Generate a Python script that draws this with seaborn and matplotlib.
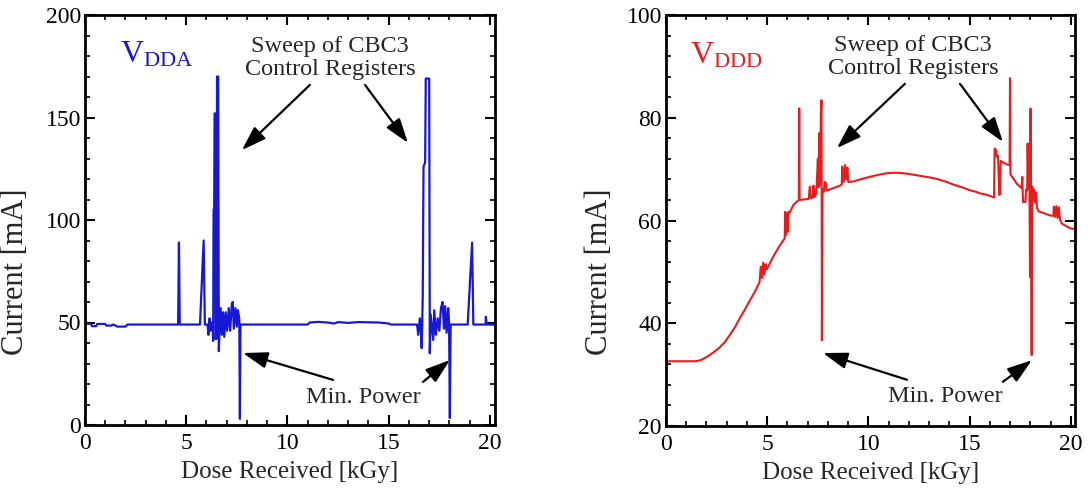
import numpy as np
import pandas as pd
import matplotlib
matplotlib.use("Agg")
import matplotlib.pyplot as plt
from matplotlib.ticker import MultipleLocator
import seaborn as sns

# ---------------- data ----------------
dda_dose = [0.0, 0.30, 0.35, 0.55, 0.60, 1.00, 1.05, 1.30, 1.40, 1.60, 2.00, 2.10,
            4.60, 4.64, 4.68, 5.68, 5.86, 5.92, 6.05, 6.10, 6.15, 6.20, 6.25,
            6.30, 6.33, 6.35, 6.38, 6.40, 6.43, 6.45, 6.50, 6.52, 6.58, 6.61, 6.64,
            6.70, 6.76, 6.82, 6.88, 6.95, 7.02, 7.10, 7.17, 7.25, 7.30, 7.35, 7.43,
            7.50, 7.55, 7.62, 7.65, 7.68,
            11.00, 11.10, 11.50, 12.00, 12.30, 12.50, 13.00, 13.50, 14.50, 15.00,
            15.10, 16.40, 16.46, 16.54, 16.58, 16.63, 16.68, 16.72, 16.80, 16.83,
            17.00, 17.03, 17.07, 17.20, 17.25, 17.33, 17.42, 17.50, 17.58, 17.66,
            17.73, 17.79, 17.86, 17.94, 17.98, 18.02, 18.06,
            18.90, 19.12, 19.18, 19.78, 19.80, 19.84, 20.25]
dda_current = [49.5, 49.3, 48.2, 48.2, 49.3, 49.3, 48.5, 48.5, 49.0, 48.0, 48.0, 49.0,
               49.0, 89.0, 49.0, 49.0, 90.0, 49.0, 49.0, 44.0, 52.0, 46.0, 50.0,
               49.0, 41.0, 105.0, 105.0, 152.0, 152.0, 42.0, 42.0, 170.0, 170.0, 36.0, 45.0,
               57.0, 44.0, 55.0, 43.0, 55.0, 46.0, 57.0, 46.0, 59.0, 60.0, 47.0, 57.0,
               48.0, 56.0, 52.0, 3.0, 49.0,
               49.0, 50.0, 50.3, 50.0, 49.5, 50.2, 49.8, 50.2, 50.0, 49.5,
               49.0, 49.0, 44.0, 52.0, 49.0, 37.5, 62.0, 126.0, 128.0, 169.0,
               169.0, 35.0, 54.0, 41.5, 56.0, 44.0, 52.0, 46.0, 57.0, 60.0,
               47.0, 58.0, 45.0, 57.0, 50.0, 3.4, 49.0,
               49.0, 89.0, 49.0, 49.0, 52.8, 49.0, 49.0]

ddd_dose = [0.0, 1.45, 1.70, 2.00, 2.30, 2.60, 2.90, 3.15, 3.40, 3.65, 3.90, 4.15,
            4.40, 4.62, 4.68, 4.74, 4.80, 4.86,
            4.92, 4.98, 5.30, 5.60, 5.86, 5.89, 5.93, 5.97, 6.01, 6.05, 6.10, 6.29,
            6.50, 6.56, 6.58, 6.60, 7.05, 7.10, 7.16, 7.25, 7.28, 7.33, 7.40, 7.45,
            7.50, 7.53, 7.57, 7.61, 7.65, 7.68, 7.70, 7.73, 7.80, 7.83, 7.90, 7.93,
            8.20, 8.60, 8.68, 8.70, 8.78, 8.84, 8.90, 8.96, 9.00, 9.25, 9.60, 10.07,
            10.50, 10.90, 11.30, 11.72, 12.10, 12.54, 13.00, 13.37, 13.80, 14.19,
            14.60, 15.00, 15.30, 15.50, 15.84, 16.20, 16.23, 16.30,
            16.34, 16.40, 16.46, 16.50, 16.53, 16.70, 16.85, 16.97, 16.99, 17.01,
            17.32, 17.56, 17.60, 17.63, 17.75, 17.78, 17.84, 17.86, 17.90, 17.94,
            17.98, 18.00, 18.03, 18.06, 18.09, 18.13, 18.18, 18.22, 18.27, 18.32,
            18.40, 18.96, 19.13, 19.16, 19.22, 19.28, 19.34, 19.40, 19.46, 19.55,
            19.95, 20.20]
ddd_current = [32.6, 32.6, 32.8, 33.4, 34.2, 35.1, 36.3, 37.7, 39.2, 41.0, 42.7, 44.5,
               46.2, 48.0, 51.0, 48.8, 51.8, 49.5,
               51.5, 50.5, 53.0, 55.0, 56.5, 61.7, 57.2, 61.5, 57.8, 61.7, 61.5, 63.0,
               63.8, 64.0, 81.8, 64.0, 64.2, 66.6, 64.3, 64.5, 66.8, 64.6, 65.0, 67.5,
               72.0, 66.5, 77.0, 67.0, 81.0, 83.4, 36.7, 66.0, 65.6, 67.5, 67.3, 65.8,
               66.2, 66.8, 67.0, 70.5, 67.5, 70.8, 68.0, 70.3, 67.5, 67.6, 68.0, 68.5,
               68.9, 69.2, 69.3, 69.2, 69.0, 68.7, 68.4, 68.1, 67.6, 67.0,
               66.5, 65.9, 65.6, 65.3, 65.0, 64.5, 74.0, 73.7,
               72.4, 72.6, 65.0, 65.2, 71.6, 71.2, 70.9, 70.8, 87.7, 69.0,
               67.2, 66.3, 68.5, 63.6, 63.6, 66.0, 65.8, 75.0, 66.5, 73.0,
               49.0, 81.8, 60.0, 33.8, 66.6, 64.0, 66.0, 63.5, 65.5, 62.5,
               61.8, 61.0, 60.9, 62.7, 60.7, 62.8, 60.5, 62.6, 60.2, 59.4,
               58.5, 58.3]

x_ticks = [0, 5, 10, 15, 20]
dda_yticks = [0, 50, 100, 150, 200]
ddd_yticks = [20, 40, 60, 80, 100]

BLUE = "#1717d6"
RED = "#ea1b1b"

# ---------------- style ----------------
sns.set_style("ticks")
plt.rcParams["font.family"] = ["Liberation Serif", "DejaVu Serif"]
plt.rcParams["mathtext.default"] = "regular"

fig = plt.figure(figsize=(10.88, 4.88), dpi=100)
W, H = 1088, 488
ax1 = fig.add_axes([85 / W, (H - 425) / H, 410 / W, 410 / H])
ax2 = fig.add_axes([666 / W, (H - 426) / H, 409 / W, 411 / H])

df1 = pd.DataFrame({"dose": dda_dose, "current": dda_current})
df2 = pd.DataFrame({"dose": ddd_dose, "current": ddd_current})
sns.lineplot(data=df1, x="dose", y="current", ax=ax1, color=BLUE, lw=1.6,
             sort=False, estimator=None)
sns.lineplot(data=df2, x="dose", y="current", ax=ax2, color=RED, lw=1.5,
             sort=False, estimator=None)

arrow = dict(arrowstyle="-|>,head_length=0.75,head_width=0.25", color="black",
             lw=1.6, mutation_scale=20, shrinkA=0, shrinkB=0)
TXT = 17.5


def style_axis(ax, xlim, ylim, yticks, yminor, ylab_x, ylab_y):
    ax.set_xlim(*xlim)
    ax.set_ylim(*ylim)
    ax.set_xticks(x_ticks)
    ax.set_yticks(yticks)
    ax.xaxis.set_minor_locator(MultipleLocator(1))
    ax.yaxis.set_minor_locator(MultipleLocator(yminor))
    ax.tick_params(which="both", direction="in", top=True, right=True,
                   colors="black", labelsize=17)
    ax.tick_params(axis="x", which="major", pad=6)
    ax.tick_params(axis="y", which="major", pad=3)
    ax.tick_params(which="major", length=7, width=1.5)
    ax.tick_params(which="minor", length=3.5, width=1.2)
    for s in ax.spines.values():
        s.set_linewidth(2.0)
        s.set_color("black")
    ax.set_xlabel("Dose Received [kGy]", fontsize=18)
    ax.set_ylabel("Current [mA]", fontsize=22)
    ax.xaxis.set_label_coords(0.5, -0.088)
    ax.yaxis.set_label_coords(ylab_x, ylab_y)


style_axis(ax1, (0, 20.25), (0, 200), dda_yticks, 10, -0.135, 0.373)
style_axis(ax2, (0, 20.2), (20, 100), ddd_yticks, 4, -0.128, 0.375)

# ---- left panel annotations ----
ax1.text(1.73, 176.6, r"$\mathregular{V_{DDA}}$", color=BLUE, fontsize=23,
         va="baseline", ha="left")
ax1.text(12.1, 179, "Sweep of CBC3\nControl Registers", fontsize=TXT,
         ha="center", va="center", linespacing=1.1)
ax1.text(13.73, 13.2, "Min. Power", fontsize=TXT, ha="center", va="center")
ax1.annotate("", xy=(7.75, 134.1), xytext=(11.11, 165.9), arrowprops=arrow)
ax1.annotate("", xy=(15.95, 137.6), xytext=(13.83, 165.9), arrowprops=arrow)
ax1.annotate("", xy=(7.80, 35.1), xytext=(12.25, 22.0), arrowprops=arrow)
ax1.annotate("", xy=(18.02, 31.7), xytext=(16.69, 21.0), arrowprops=arrow)

# ---- right panel annotations ----
ax2.text(1.19, 90.6, r"$\mathregular{V_{DDD}}$", color=RED, fontsize=23,
         va="baseline", ha="left")
ax2.text(12.2, 91.8, "Sweep of CBC3\nControl Registers", fontsize=TXT,
         ha="center", va="center", linespacing=1.1)
ax2.text(13.78, 25.7, "Min. Power", fontsize=TXT, ha="center", va="center")
ax2.annotate("", xy=(8.44, 74.1), xytext=(11.80, 86.6), arrowprops=arrow)
ax2.annotate("", xy=(16.64, 75.3), xytext=(14.52, 86.6), arrowprops=arrow)
ax2.annotate("", xy=(7.75, 34.2), xytext=(11.90, 29.0), arrowprops=arrow)
ax2.annotate("", xy=(18.07, 32.8), xytext=(16.64, 28.6), arrowprops=arrow)

fig.savefig("out.png", dpi=100)
